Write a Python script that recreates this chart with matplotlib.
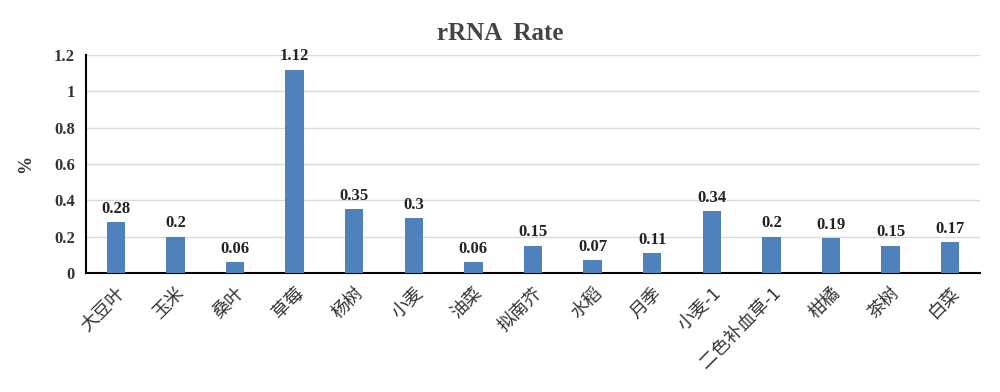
import matplotlib.pyplot as plt

# --- Data ---
plants = ["大豆叶", "玉米", "桑叶", "草莓", "杨树", "小麦", "油菜", "拟南芥",
          "水稻", "月季", "小麦-1", "二色补血草-1", "柑橘", "茶树", "白菜"]
rates = [0.28, 0.2, 0.06, 1.12, 0.35, 0.3, 0.06, 0.15,
         0.07, 0.11, 0.34, 0.2, 0.19, 0.15, 0.17]
yticks = [0, 0.2, 0.4, 0.6, 0.8, 1, 1.2]
ytick_labels = ["0", "0.2", "0.4", "0.6", "0.8", "1", "1.2"]

plt.rcParams["font.family"] = ["Liberation Serif", "Noto Sans CJK SC"]

fig = plt.figure(figsize=(10, 3.92), dpi=100)
ax = fig.add_axes([0.086, 0.3036, 0.894, 0.5561])

x = range(len(plants))
ax.bar(x, rates, width=0.31, color="#4F81BD", zorder=3)

for xi, v in zip(x, rates):
    ax.text(xi, v + 0.03, f"{v:g}", ha="center", va="bottom",
            fontsize=12, fontweight="bold", color="#222222")

ax.set_xlim(-0.5, len(plants) - 0.5)
ax.set_ylim(0, 1.2)
ax.set_yticks(yticks)
ax.set_yticklabels(ytick_labels, fontsize=12, fontweight="bold", color="#333333")
ax.set_xticks(list(x))
ax.set_xticklabels(plants, rotation=45, ha="right", rotation_mode="anchor",
                   fontsize=13, color="#333333",
                   family=["Noto Sans CJK SC", "DejaVu Sans"])
ax.tick_params(axis="both", length=0, pad=8)
ax.grid(axis="y", color="#D9D9D9", linewidth=1, zorder=0)

for s in ["top", "right"]:
    ax.spines[s].set_visible(False)
ax.spines["left"].set_linewidth(1.5)
ax.spines["bottom"].set_linewidth(1.5)

ax.set_ylabel("%", fontsize=13, fontweight="bold", color="#333333", labelpad=14)
fig.text(0.5, 0.915, "rRNA  Rate", ha="center", va="center",
         fontsize=18, fontweight="bold", color="#444444")

plt.savefig("out.png", dpi=100)
